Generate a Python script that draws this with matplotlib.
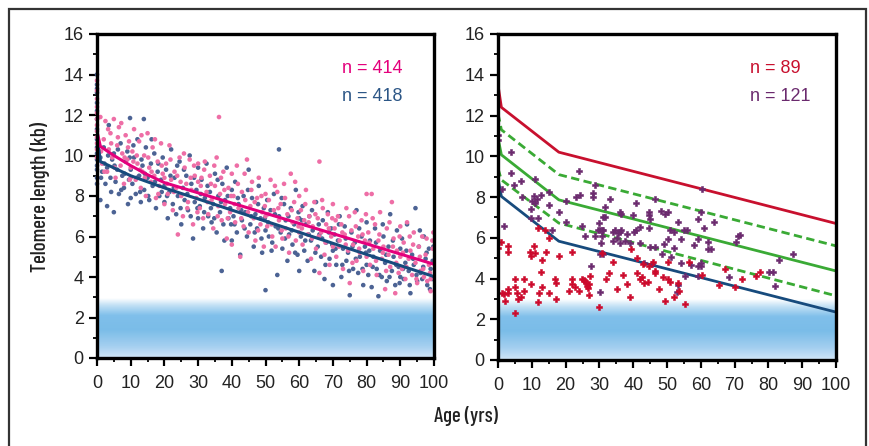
import matplotlib
matplotlib.use("Agg")
import matplotlib.pyplot as plt
from matplotlib.patches import Rectangle
from matplotlib.ticker import MultipleLocator
import numpy as np

# ---- left panel: healthy donors ----
navy_pts = [
    (0, 14.0), (0, 13.5), (0, 13.3), (0, 13.1), (0, 12.6), (0, 12.2), (0, 11.8), (0, 11.3),
    (0, 10.8), (0, 10.4), (0, 10.1), (0, 9.8), (0, 9.5), (0, 9.3), (0, 8.9), (0, 8.6),
    (1, 9.9), (1, 7.8), (1.5, 9.2), (2, 10.4), (2.5, 8.6), (3, 9.4), (3, 7.5), (3.5, 11.5),
    (4, 8.9), (4.5, 9.8), (5, 7.2), (5, 10.1), (5.5, 8.7), (6, 9.3), (6.5, 8.1), (7, 10.6),
    (7.5, 9.0), (8, 8.4), (8.5, 9.7), (9, 10.2), (9.5, 8.8), (9.8, 11.85), (10, 9.3), (10, 7.9),
    (1.2, 8.9), (2.2, 9.6), (3.3, 10.0), (4.2, 8.2), (5.2, 9.5), (6.2, 10.3), (7.2, 8.3), (8.2, 9.1),
    (9.2, 7.6), (9.7, 9.9),
    (10.5, 8.6), (11, 9.9), (11.5, 8.1), (12, 10.8), (12.5, 9.0), (13, 7.7), (13.5, 9.5), (13.9, 11.8),
    (14, 8.3), (14.5, 10.4), (15, 8.9), (15.5, 7.8), (16, 9.6), (16.5, 8.5), (17, 10.1), (17.5, 7.4),
    (18, 9.2), (18.5, 8.0), (19, 8.8), (19.5, 9.9), (20, 7.7), (20, 8.5),
    (10.8, 10.5), (11.8, 8.9), (12.8, 8.2), (13.2, 9.8), (14.2, 9.1), (15.2, 8.0), (16.2, 10.8),
    (17.2, 8.7), (18.2, 9.6), (19.2, 8.2),
    (20.5, 9.3), (21, 6.9), (21.5, 8.2), (22, 10.3), (22.5, 7.6), (23, 8.9), (23.5, 7.1), (24, 8.0),
    (24.5, 9.7), (25, 6.6), (25.5, 8.4), (26, 7.8), (26.5, 9.0), (27, 7.3), (27.5, 10.0), (28, 8.6),
    (28.5, 5.9), (29, 7.7), (29.5, 8.3), (30, 9.4), (30, 6.9),
    (20.8, 8.0), (21.8, 9.0), (22.8, 8.4), (23.8, 9.5), (24.8, 7.4), (25.8, 9.3), (26.8, 8.1),
    (27.8, 7.0), (28.8, 8.9), (29.8, 7.4),
    (30.5, 7.5), (31, 8.8), (31.5, 6.4), (32, 7.9), (32.5, 9.6), (33, 7.0), (33.5, 8.2), (34, 6.7),
    (34.5, 7.6), (35, 9.1), (35.5, 6.2), (36, 8.0), (36.5, 7.2), (37, 4.3), (37.2, 8.6), (37.5, 6.6),
    (38, 7.8), (38.5, 9.4), (39, 6.9), (39.5, 7.4), (40, 8.3), (40, 5.8),
    (30.8, 8.1), (31.8, 7.2), (32.8, 8.5), (33.8, 7.4), (34.8, 6.9), (35.8, 8.8), (36.8, 7.7),
    (37.8, 5.8), (38.8, 8.0), (39.8, 6.6),
    (40.5, 7.0), (41, 8.7), (41.5, 6.2), (42, 7.6), (42.5, 5.1), (43, 6.8), (43.5, 8.0), (44, 7.2),
    (44.5, 6.0), (45, 9.3), (45.5, 6.6), (46, 7.9), (46.5, 5.5), (47, 7.1), (47.5, 6.4), (48, 8.5),
    (48.5, 6.9), (49, 5.2), (49.5, 7.4), (50, 3.35), (50, 6.3), (50.5, 7.8),
    (40.8, 6.6), (41.8, 7.9), (42.8, 7.3), (43.8, 6.4), (44.8, 8.3), (45.8, 7.0), (46.8, 6.2),
    (47.8, 7.6), (48.8, 5.9), (49.8, 6.9),
    (51, 6.0), (51.5, 7.3), (52, 5.7), (52.5, 8.1), (53, 6.5), (53.5, 4.1), (54, 10.3), (54, 7.0),
    (54.5, 6.2), (55, 5.4), (55.5, 7.6), (56, 6.8), (56.5, 4.8), (57, 6.1), (57.5, 7.4), (58, 5.6),
    (58.5, 6.6), (59, 8.3), (59.5, 5.1), (60, 6.9), (60, 4.3),
    (50.8, 6.7), (51.8, 5.3), (52.8, 7.1), (53.8, 6.4), (54.8, 7.9), (55.8, 5.9), (56.8, 7.0),
    (57.8, 6.3), (58.8, 5.2), (59.8, 7.2),
    (60.5, 6.0), (61, 7.5), (61.5, 5.3), (62, 6.6), (62.5, 4.8), (63, 7.0), (63.5, 5.8), (64, 6.3),
    (64.5, 4.3), (65, 7.7), (65.5, 5.5), (66, 6.1), (66.5, 5.0), (67, 6.8), (67.5, 3.9), (68, 5.7),
    (68.5, 7.2), (69, 4.9), (69.5, 6.4), (70, 5.3), (70, 3.6),
    (60.8, 6.8), (61.8, 5.8), (62.8, 6.1), (63.8, 7.3), (64.8, 5.2), (65.8, 6.6), (66.8, 5.9),
    (67.8, 4.6), (68.8, 6.2), (69.8, 5.6),
    (70.5, 6.1), (71, 4.6), (71.5, 5.8), (72, 7.0), (72.5, 4.0), (73, 5.4), (73.5, 6.5), (74, 4.8),
    (74.5, 5.2), (75, 3.1), (75.5, 6.2), (76, 4.4), (76.5, 5.7), (77, 7.3), (77.5, 4.2), (78, 5.0),
    (78.5, 6.0), (79, 3.6), (79.5, 5.5), (80, 4.6), (80, 6.7),
    (70.8, 5.4), (71.8, 6.6), (72.8, 4.6), (73.8, 5.9), (74.8, 4.3), (75.8, 5.5), (76.8, 4.9),
    (77.8, 6.4), (78.8, 4.4), (79.8, 5.2),
    (80.5, 4.1), (81, 5.8), (81.5, 3.5), (82, 5.0), (82.5, 6.4), (83, 4.4), (83.5, 3.05), (84, 5.3),
    (84.5, 4.0), (85, 6.0), (85.5, 4.7), (86, 3.8), (86.5, 5.5), (87, 7.1), (87.5, 4.3), (88, 5.0),
    (88.5, 3.6), (89, 6.3), (89.5, 4.5), (90, 5.4), (90, 4.0),
    (80.8, 5.3), (81.8, 4.5), (82.8, 5.7), (83.8, 4.1), (84.8, 6.6), (85.8, 5.1), (86.8, 4.0),
    (87.8, 5.8), (88.8, 4.6), (89.8, 3.7),
    (90.5, 5.9), (91, 3.9), (91.5, 4.7), (92, 6.6), (92.5, 4.3), (93, 3.2), (93.5, 5.1), (94, 4.6),
    (94.5, 7.4), (95, 3.8), (95.5, 5.5), (96, 4.2), (96.5, 3.9), (97, 6.0), (97.5, 4.9), (98, 3.6),
    (98.5, 5.4), (99, 4.4), (99.5, 3.9), (99.8, 5.5),
    (90.8, 4.4), (91.8, 5.3), (92.8, 3.6), (93.8, 4.9), (94.8, 4.1), (95.8, 6.3), (96.8, 4.5),
    (97.8, 5.2), (98.8, 3.4), (99.6, 4.8),
]

pink_pts = [
    (0, 13.7), (0, 13.2), (0, 12.8), (0, 12.4), (0, 12.1), (0, 11.8), (0, 11.5), (0, 11.2),
    (0, 10.9), (0, 10.6), (0, 10.3), (0, 9.9),
    (1, 11.9), (1.5, 9.6), (2, 10.8), (2.5, 11.7), (3, 9.2), (3.5, 10.3), (4, 11.1), (4.5, 9.9),
    (5, 11.8), (5.5, 8.9), (6, 10.5), (6.5, 11.4), (7, 9.5), (7.5, 10.1), (8, 8.6), (8.5, 11.0),
    (9, 9.8), (9.5, 10.7), (10, 8.9), (10, 9.4),
    (1.2, 10.2), (2.2, 9.2), (3.3, 11.3), (4.2, 10.6), (5.2, 9.4), (6.2, 10.9), (7.2, 11.6),
    (8.2, 9.9), (9.2, 10.4), (9.7, 8.8),
    (10.5, 10.2), (11, 11.3), (11.5, 8.8), (12, 9.6), (12.5, 10.7), (13, 8.4), (13.5, 9.2), (14, 10.0),
    (14.5, 8.0), (15, 11.1), (15.5, 9.4), (16, 8.7), (16.5, 10.4), (17, 9.0), (17.5, 7.9), (18, 9.7),
    (18.5, 8.5), (19, 10.6), (19.5, 9.1), (20, 7.6), (20, 8.9),
    (10.8, 9.7), (11.8, 10.0), (12.8, 9.3), (13.2, 11.0), (14.2, 8.9), (15.2, 9.9), (16.2, 9.2),
    (17.2, 10.8), (18.2, 8.1), (19.2, 9.5),
    (20.5, 9.6), (21, 8.1), (21.5, 10.5), (22, 8.8), (22.5, 7.3), (23, 9.2), (23.5, 8.4), (24, 6.1),
    (24.5, 9.9), (25, 8.0), (25.5, 7.0), (26, 9.4), (26.5, 8.6), (27, 7.7), (27.5, 9.8), (28, 8.3),
    (28.5, 6.6), (29, 9.0), (29.5, 7.9), (30, 8.7), (30, 9.6),
    (20.8, 8.6), (21.8, 9.8), (22.8, 8.2), (23.8, 9.0), (24.8, 8.7), (25.8, 10.1), (26.8, 7.4),
    (27.8, 8.9), (28.8, 9.5), (29.8, 7.2),
    (30.5, 7.4), (31, 8.9), (31.5, 6.9), (32, 9.7), (32.5, 8.2), (33, 7.1), (33.5, 9.0), (34, 7.8),
    (34.5, 6.4), (35, 8.5), (35.5, 9.9), (36, 7.5), (36.2, 11.9), (36.5, 8.1), (37, 6.8), (37.5, 9.2),
    (38, 7.6), (38.5, 5.9), (39, 8.4), (39.5, 7.2), (40, 9.1), (40, 5.6),
    (30.8, 8.5), (31.8, 9.3), (32.8, 7.7), (33.8, 8.6), (34.8, 9.5), (35.8, 7.0), (36.8, 8.9),
    (37.8, 8.3), (38.8, 6.9), (39.8, 8.0),
    (40.5, 8.0), (41, 6.7), (41.5, 9.5), (42, 7.4), (42.5, 5.0), (43, 8.2), (43.5, 6.5), (44, 7.8),
    (44.5, 9.8), (45, 6.2), (45.5, 7.5), (46, 8.7), (46.5, 6.9), (47, 5.8), (47.5, 7.9), (48, 8.9),
    (48.5, 6.6), (49, 7.2), (49.5, 5.5), (50, 8.1), (50, 7.0),
    (40.8, 7.6), (41.8, 8.6), (42.8, 6.9), (43.8, 9.1), (44.8, 7.2), (45.8, 8.3), (46.8, 7.7),
    (47.8, 6.3), (48.8, 8.0), (49.8, 7.5),
    (50.5, 6.5), (51, 7.8), (51.5, 8.8), (52, 6.0), (52.5, 7.3), (53, 5.5), (53.5, 8.2), (54, 6.8),
    (54.5, 7.6), (55, 5.9), (55.5, 8.6), (56, 6.4), (56.5, 7.1), (57, 5.2), (57.5, 9.1), (58, 6.7),
    (58.5, 7.7), (59, 5.8), (59.5, 6.9), (60, 8.0), (60, 6.2),
    (50.8, 7.1), (51.8, 6.6), (52.8, 8.5), (53.8, 7.4), (54.8, 6.3), (55.8, 7.9), (56.8, 6.0),
    (57.8, 7.3), (58.8, 8.7), (59.8, 6.5),
    (60.5, 7.3), (61, 5.6), (61.5, 6.8), (62, 8.3), (62.5, 6.1), (63, 7.0), (63.5, 4.9), (64, 6.5),
    (64.5, 7.7), (65, 5.4), (65.5, 6.9), (66, 9.7), (66, 4.2), (66.5, 6.2), (67, 7.4), (67.5, 5.1),
    (68, 6.6), (68.5, 7.1), (69, 4.6), (69.5, 6.0), (70, 7.6), (70, 5.5),
    (60.8, 6.4), (61.8, 7.6), (62.8, 6.7), (63.8, 5.9), (64.8, 7.1), (65.8, 6.0), (66.8, 7.8),
    (67.8, 5.7), (68.8, 6.4), (69.8, 6.9),
    (70.5, 6.4), (71, 5.0), (71.5, 7.0), (72, 5.8), (72.5, 6.6), (73, 4.4), (73.5, 6.1), (74, 7.4),
    (74.5, 5.3), (75, 3.7), (75.5, 6.3), (76, 5.6), (76.5, 7.2), (77, 4.8), (77.5, 6.0), (78, 5.2),
    (78.5, 6.8), (79, 4.3), (79.5, 5.8), (80, 8.1), (80, 5.0),
    (70.8, 6.8), (71.8, 5.5), (72.8, 6.2), (73.8, 5.6), (74.8, 7.0), (75.8, 4.7), (76.8, 6.5),
    (77.8, 5.4), (78.8, 6.1), (79.8, 7.1),
    (80.5, 6.2), (81, 4.6), (81.5, 8.1), (82, 5.4), (82.5, 6.6), (83, 4.1), (83.5, 5.8), (84, 7.2),
    (84.5, 4.9), (85, 5.5), (85.5, 3.4), (86, 6.4), (86.5, 5.1), (87, 4.5), (87.5, 7.7), (88, 5.9),
    (88.5, 3.2), (89, 5.3), (89.5, 4.2), (90, 6.5), (90, 5.0),
    (80.8, 5.7), (81.8, 6.9), (82.8, 4.8), (83.8, 6.1), (84.8, 5.2), (85.8, 4.3), (86.8, 6.7),
    (87.8, 5.5), (88.8, 4.7), (89.8, 6.0),
    (90.5, 4.4), (91, 5.7), (91.5, 3.9), (92, 6.7), (92.5, 4.9), (93, 5.3), (93.5, 4.1), (94, 6.2),
    (94.5, 4.7), (95, 3.7), (95.5, 5.5), (96, 4.3), (96.5, 6.0), (97, 4.0), (97.5, 5.1), (98, 3.8),
    (98.5, 4.6), (99, 3.3), (99.5, 5.8), (99.8, 6.2), (99, 3.9),
    (90.8, 5.2), (91.8, 4.5), (92.8, 6.0), (93.8, 5.6), (94.8, 3.9), (95.8, 5.0), (96.8, 4.4),
    (97.8, 5.9), (98.8, 4.2), (99.6, 5.4),
]

# fitted median lines, left panel
pink_fit_age = [0, 1, 5, 10, 15, 20, 100]
pink_fit_tl = [11.2, 10.45, 10.0, 9.5, 9.05, 8.66, 4.63]
navy_fit_age = [0, 1, 10, 20, 100]
navy_fit_tl = [11.0, 9.7, 9.0, 8.4, 4.02]

# ---- right panel: patients ----
red_pts = [
    (0.0, 5.5), (0.9, 5.8), (1.1, 3.3), (1.8, 3.25), (2.1, 2.9), (2.9, 5.6), (2.9, 5.3), (3.1, 3.5),
    (3.1, 3.3), (5.1, 4.0), (5.1, 3.6), (4.9, 2.3), (5.6, 3.3), (5.9, 3.0), (6.7, 3.1), (7.7, 3.4),
    (7.8, 4.0), (9.5, 5.3), (9.7, 5.1), (9.8, 3.75), (10.7, 5.6), (11.0, 5.25), (11.7, 6.5), (12.0, 3.3),
    (11.8, 2.85), (12.7, 4.3), (13.0, 4.9), (13.0, 3.6), (14.0, 6.4), (14.3, 5.3), (15.0, 6.0), (15.1, 3.3),
    (16.9, 4.0), (17.1, 3.8), (17.1, 3.0), (18.1, 5.1), (21.0, 3.4), (21.8, 5.3), (22.0, 4.0), (22.0, 3.75),
    (22.8, 3.6), (24.1, 3.4), (24.8, 4.0), (25.3, 3.95), (26.0, 3.8), (26.2, 3.65), (26.9, 3.75), (26.9, 3.2),
    (27.2, 4.1), (25.8, 3.9), (26.5, 3.55), (29.9, 2.6), (30.9, 5.25), (32.0, 4.0), (32.9, 4.25), (33.9, 4.8),
    (35.1, 3.5), (37.1, 4.15), (38.1, 3.75), (39.1, 3.1), (39.3, 5.45), (41.0, 5.0), (41.0, 4.25), (42.0, 4.0),
    (42.5, 4.05), (43.0, 4.7), (43.2, 3.8), (44.5, 3.85), (44.6, 4.6), (46.0, 4.8), (46.5, 4.35), (46.5, 4.25),
    (47.5, 3.5), (48.8, 4.05), (49.3, 2.9), (50.3, 4.8), (50.3, 4.0), (51.0, 3.85), (52.0, 3.1), (53.2, 3.8),
    (53.5, 3.4), (55.2, 2.75), (56.4, 4.8), (60.4, 4.15), (65.3, 3.7), (67.3, 4.45), (70.2, 3.6), (72.2, 4.0),
    (76.2, 4.1), (77.5, 4.3),
]

purple_pts = [
    (0.0, 10.8), (0.0, 11.05), (1.1, 8.4), (3.7, 10.2), (3.8, 9.2), (4.7, 8.6), (6.7, 8.8), (7.0, 8.0),
    (10.8, 8.9), (10.0, 7.8), (10.7, 8.05), (11.5, 7.9), (11.0, 7.7), (12.6, 8.1), (9.7, 7.4), (15.1, 8.25),
    (15.2, 7.6), (18.1, 7.25), (20.1, 7.8), (23.2, 8.0), (24.1, 9.3), (24.3, 8.1), (28.1, 8.2), (28.1, 8.0),
    (28.8, 8.6), (31.7, 7.5), (33.0, 7.9), (31.0, 7.0), (36.2, 7.25), (36.4, 7.15), (39.9, 7.1), (40.9, 7.7),
    (44.6, 7.25), (44.6, 7.1), (45.1, 6.9), (46.4, 7.9), (48.3, 7.3), (49.3, 7.15), (50.4, 7.25), (53.2, 6.75),
    (59.2, 6.9), (60.0, 7.25), (60.4, 8.4), (63.8, 6.75),
    (1.9, 6.6), (9.8, 6.95), (11.8, 6.95), (16.1, 6.4), (20.1, 6.75), (24.9, 6.6), (25.8, 6.1), (28.7, 6.1),
    (29.5, 6.4), (30.2, 6.4), (30.7, 6.4), (31.2, 6.4), (29.9, 6.7), (31.7, 7.0), (33.9, 6.3), (34.5, 6.4),
    (30.7, 6.1), (30.5, 5.75), (35.1, 6.0), (36.5, 6.4), (35.6, 6.25), (30.2, 5.2), (31.0, 5.2), (27.4, 4.6),
    (30.2, 3.35), (34.1, 5.85), (37.7, 5.85),
    (36.2, 6.3), (38.1, 6.2), (40.1, 6.3), (40.9, 6.4), (42.1, 6.55), (44.6, 6.5), (51.0, 6.4), (52.0, 6.3),
    (55.1, 6.4), (55.9, 6.4), (61.0, 6.5), (36.2, 5.75), (39.1, 5.75), (42.1, 5.75), (45.0, 5.55), (46.5, 5.55),
    (50.3, 5.95), (54.0, 5.95), (59.2, 5.95), (62.1, 5.8), (71.0, 6.1), (70.3, 5.8), (49.1, 5.7), (52.1, 5.5),
    (58.1, 5.65), (62.1, 5.45), (63.0, 5.45), (48.5, 5.2), (51.2, 5.05), (43.3, 4.75), (45.6, 4.7), (54.1, 4.75),
    (57.0, 4.65), (59.2, 4.6), (60.0, 4.6), (60.1, 4.75), (55.4, 4.1), (59.2, 4.1), (68.3, 4.05), (52.9, 3.35),
    (53.2, 3.7), (71.7, 6.15), (83.1, 4.9), (87.4, 5.2), (80.1, 4.3), (81.4, 4.3), (82.1, 3.63),
]

# percentile lines from the healthy cohort (1st, 10th, 50th, 90th, 99th)
pct_age = [0, 1, 18, 100]
p99_tl = [13.5, 12.4, 10.2, 6.7]
p90_tl = [12.1, 11.3, 9.1, 5.6]
p50_tl = [10.9, 10.07, 7.86, 4.37]
p10_tl = [9.4, 8.84, 6.72, 3.15]
p1_tl = [8.9, 8.03, 5.83, 2.35]

tick_font = ["Liberation Sans", "DejaVu Sans"]
label_font = ["Barlow Condensed", "Liberation Sans", "DejaVu Sans"]

fig = plt.figure(figsize=(8.7, 4.46), dpi=100)
ax1 = fig.add_axes([97 / 870, 88 / 446, 337 / 870, 324 / 446])
ax2 = fig.add_axes([498 / 870, 86 / 446, 338 / 870, 326 / 446])

# gradient band below ~3 kb
stops_y = [0.0, 0.6, 1.4, 2.1, 2.6, 2.95]
stops_r = [0.82, 0.64, 0.48, 0.50, 0.76, 1.0]
stops_g = [0.90, 0.81, 0.74, 0.75, 0.88, 1.0]
stops_b = [0.97, 0.94, 0.91, 0.92, 0.96, 1.0]
yy = np.linspace(0, 2.95, 200)
band = np.stack([np.interp(yy, stops_y, stops_r),
                 np.interp(yy, stops_y, stops_g),
                 np.interp(yy, stops_y, stops_b)], axis=-1)[:, None, :]

for ax in (ax1, ax2):
    ax.imshow(band, extent=(0, 100, 0, 2.95), origin="lower", aspect="auto",
              zorder=0, interpolation="bilinear")
    ax.set_xlim(0, 100)
    ax.set_ylim(0, 16)
    ax.xaxis.set_major_locator(MultipleLocator(10))
    ax.xaxis.set_minor_locator(MultipleLocator(5))
    ax.yaxis.set_major_locator(MultipleLocator(2))
    ax.yaxis.set_minor_locator(MultipleLocator(1))
    ax.tick_params(which="major", direction="out", length=5.5, width=1.6,
                   labelsize=13, pad=4)
    ax.tick_params(which="minor", direction="out", length=3, width=1.3)
    ax.tick_params(axis="x", which="major", pad=7)
    for lab in ax.get_xticklabels() + ax.get_yticklabels():
        lab.set_family(tick_font)
        lab.set_color("#222222")
    for sp in ax.spines.values():
        sp.set_linewidth(2.4)
        sp.set_zorder(5)

# left panel
na = [p[0] for p in navy_pts]
nt = [p[1] for p in navy_pts]
pa = [p[0] for p in pink_pts]
pt = [p[1] for p in pink_pts]
ax1.scatter(na, nt, s=11, color="#4c6394", edgecolors="none", zorder=2, clip_on=False)
ax1.scatter(pa, pt, s=11, color="#ee6ea6", edgecolors="none", zorder=2, clip_on=False)
ax1.plot(navy_fit_age, navy_fit_tl, color="#174b7d", lw=2.2, zorder=3)
ax1.plot(pink_fit_age, pink_fit_tl, color="#e4007c", lw=2.2, zorder=3)
ax1.text(0.727, 0.895, "n = 414", transform=ax1.transAxes, color="#e4007c",
         fontsize=13, family=tick_font, va="center")
ax1.text(0.727, 0.808, "n = 418", transform=ax1.transAxes, color="#2c5686",
         fontsize=13, family=tick_font, va="center")

# right panel
ra = [p[0] for p in red_pts]
rt = [p[1] for p in red_pts]
ua = [p[0] for p in purple_pts]
ut = [p[1] for p in purple_pts]
ax2.plot(pct_age, p99_tl, color="#c8102e", lw=2.0, zorder=3)
ax2.plot(pct_age, p90_tl, color="#3aaa35", lw=2.0, ls=(0, (3, 1.6)), zorder=3)
ax2.plot(pct_age, p50_tl, color="#3aaa35", lw=2.0, zorder=3)
ax2.plot(pct_age, p10_tl, color="#3aaa35", lw=2.0, ls=(0, (3, 1.6)), zorder=3)
ax2.plot(pct_age, p1_tl, color="#174b7d", lw=2.0, zorder=3)
ax2.scatter(ua, ut, s=19, marker="P", color="#6b2a6e", edgecolors="#6b2a6e",
            linewidths=0.4, zorder=4)
ax2.scatter(ra, rt, s=19, marker="P", color="#cc0a2c", edgecolors="#cc0a2c",
            linewidths=0.4, zorder=4)
ax2.text(0.746, 0.895, "n = 89", transform=ax2.transAxes, color="#c8102e",
         fontsize=13, family=tick_font, va="center")
ax2.text(0.746, 0.808, "n = 121", transform=ax2.transAxes, color="#6b2a6e",
         fontsize=13, family=tick_font, va="center")

fig.text(40 / 870, 1 - 197 / 446, "Telomere length (kb)", rotation=90,
         ha="center", va="center", fontsize=15, family=label_font,
         weight="medium", color="#222222")
fig.text(466 / 870, 1 - 416 / 446, "Age (yrs)", ha="center", va="center",
         fontsize=15, family=label_font, weight="medium", color="#222222")

# outer frame of the figure panel
fig.patches.append(Rectangle((9 / 870, -0.05), 857 / 870, 1.05 - 9 / 446,
                             transform=fig.transFigure, fill=False,
                             edgecolor="#333333", lw=1.6))

fig.savefig("out.png", dpi=100)
